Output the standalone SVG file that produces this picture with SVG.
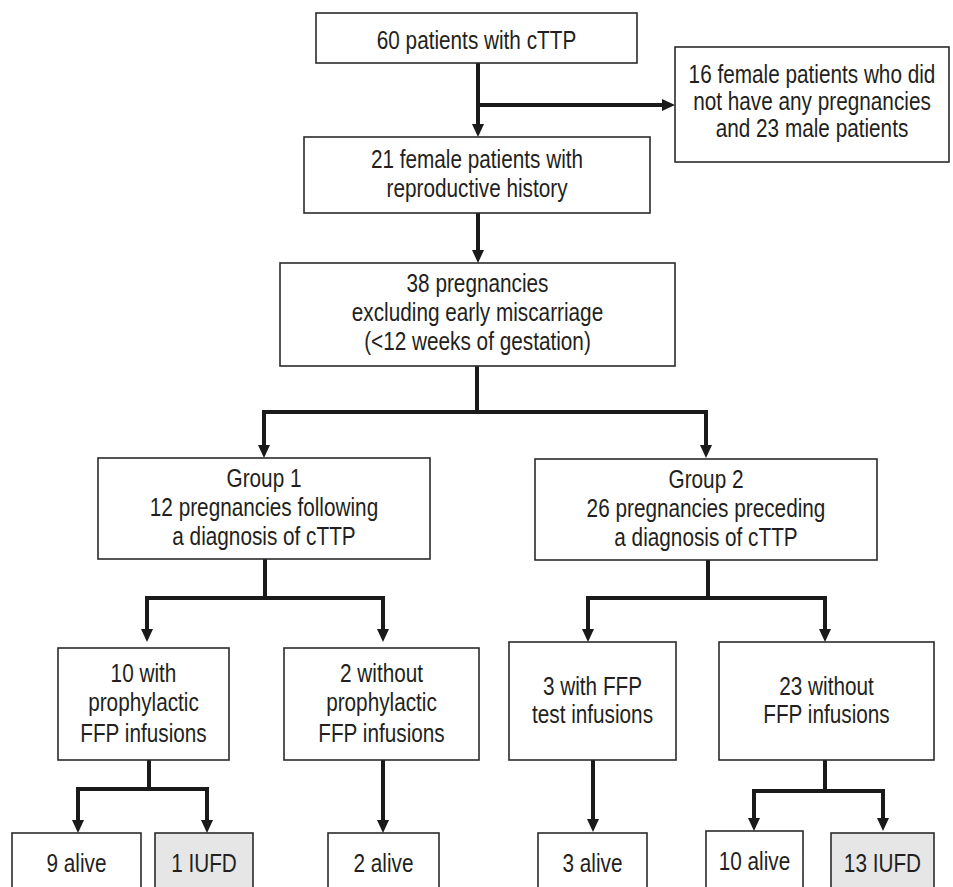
<svg xmlns="http://www.w3.org/2000/svg" width="953" height="887" viewBox="0 0 953 887">
  <style>
    .box { fill: #ffffff; stroke: #2b2b2b; stroke-width: 1.6; }
    .box.grey { fill: #e6e6e6; }
    .lbl { font-family: "Liberation Sans", Arial, sans-serif; font-size: 25px; fill: #231f20; text-anchor: middle;
           transform-box: fill-box; transform-origin: center; transform: scaleX(0.83); }
    .link { fill: none; stroke: #1a1a1a; stroke-width: 4; stroke-linejoin: miter; stroke-linecap: butt; }
  </style>
  <defs>
    <marker id="arrow" markerUnits="userSpaceOnUse" markerWidth="13" markerHeight="12" viewBox="0 0 13 12" refX="1" refY="6" orient="auto">
      <path d="M0,0 L13,6 L0,12 Z" fill="#1a1a1a"/>
    </marker>
  </defs>

  <rect width="953" height="887" fill="#ffffff"/>

  <!-- connectors -->
  <g id="connectors">
    <path class="link" d="M478,63 V125" marker-end="url(#arrow)"/>
    <path class="link" d="M478,105 H663" marker-end="url(#arrow)"/>
    <path class="link" d="M478,213 V251" marker-end="url(#arrow)"/>

    <path class="link" d="M477,366 V412"/>
    <path class="link" d="M477,412 H264 V446" marker-end="url(#arrow)"/>
    <path class="link" d="M477,412 H706 V446" marker-end="url(#arrow)"/>

    <path class="link" d="M265,559 V598"/>
    <path class="link" d="M265,598 H147 V630" marker-end="url(#arrow)"/>
    <path class="link" d="M265,598 H383 V630" marker-end="url(#arrow)"/>

    <path class="link" d="M708,560 V598"/>
    <path class="link" d="M708,598 H588 V630" marker-end="url(#arrow)"/>
    <path class="link" d="M708,598 H825 V630" marker-end="url(#arrow)"/>

    <path class="link" d="M149,760 V789"/>
    <path class="link" d="M149,789 H78 V821" marker-end="url(#arrow)"/>
    <path class="link" d="M149,789 H207 V821" marker-end="url(#arrow)"/>

    <path class="link" d="M383,760 V821" marker-end="url(#arrow)"/>
    <path class="link" d="M593,760 V820" marker-end="url(#arrow)"/>

    <path class="link" d="M825,760 V791"/>
    <path class="link" d="M825,791 H754 V819" marker-end="url(#arrow)"/>
    <path class="link" d="M825,791 H883 V819" marker-end="url(#arrow)"/>
  </g>

  <!-- nodes -->
  <g id="all-patients">
    <rect class="box" x="316" y="13" width="321" height="50"/>
    <text class="lbl" x="476.5" y="49">60 patients with cTTP</text>
  </g>

  <g id="excluded">
    <rect class="box" x="675" y="47" width="274" height="115"/>
    <text class="lbl" x="812" y="83">16 female patients who did</text>
    <text class="lbl" x="812" y="110">not have any pregnancies</text>
    <text class="lbl" x="812" y="137">and 23 male patients</text>
  </g>

  <g id="female-reproductive">
    <rect class="box" x="304" y="137" width="346" height="76"/>
    <text class="lbl" x="477" y="168">21 female patients with</text>
    <text class="lbl" x="477" y="197">reproductive history</text>
  </g>

  <g id="pregnancies">
    <rect class="box" x="280" y="263" width="395" height="103"/>
    <text class="lbl" x="477.5" y="292">38 pregnancies</text>
    <text class="lbl" x="477.5" y="321">excluding early miscarriage</text>
    <text class="lbl" x="477.5" y="350">(&lt;12 weeks of gestation)</text>
  </g>

  <g id="group-1">
    <rect class="box" x="98" y="458" width="332" height="101"/>
    <text class="lbl" x="264" y="487">Group 1</text>
    <text class="lbl" x="264" y="516">12 pregnancies following</text>
    <text class="lbl" x="264" y="545">a diagnosis of cTTP</text>
  </g>

  <g id="group-2">
    <rect class="box" x="535" y="459" width="342" height="101"/>
    <text class="lbl" x="706" y="488">Group 2</text>
    <text class="lbl" x="706" y="517">26 pregnancies preceding</text>
    <text class="lbl" x="706" y="546">a diagnosis of cTTP</text>
  </g>

  <g id="with-prophylactic">
    <rect class="box" x="58" y="648" width="171" height="112"/>
    <text class="lbl" x="143.5" y="682">10 with</text>
    <text class="lbl" x="143.5" y="711">prophylactic</text>
    <text class="lbl" x="143.5" y="742">FFP infusions</text>
  </g>

  <g id="without-prophylactic">
    <rect class="box" x="284" y="648" width="195" height="112"/>
    <text class="lbl" x="381.5" y="682">2 without</text>
    <text class="lbl" x="381.5" y="711">prophylactic</text>
    <text class="lbl" x="381.5" y="742">FFP infusions</text>
  </g>

  <g id="test-infusions">
    <rect class="box" x="509" y="642" width="167" height="118"/>
    <text class="lbl" x="592.5" y="695">3 with FFP</text>
    <text class="lbl" x="592.5" y="723">test infusions</text>
  </g>

  <g id="without-infusions">
    <rect class="box" x="719" y="642" width="215" height="118"/>
    <text class="lbl" x="826.5" y="695">23 without</text>
    <text class="lbl" x="826.5" y="723">FFP infusions</text>
  </g>

  <g id="outcome-9-alive">
    <rect class="box" x="12" y="833" width="129" height="70"/>
    <text class="lbl" x="76.5" y="872">9 alive</text>
  </g>

  <g id="outcome-1-iufd">
    <rect class="box grey" x="155" y="833" width="98" height="70"/>
    <text class="lbl" x="204" y="872">1 IUFD</text>
  </g>

  <g id="outcome-2-alive">
    <rect class="box" x="328" y="833" width="111" height="70"/>
    <text class="lbl" x="383.5" y="872">2 alive</text>
  </g>

  <g id="outcome-3-alive">
    <rect class="box" x="538" y="833" width="109" height="70"/>
    <text class="lbl" x="592.5" y="872">3 alive</text>
  </g>

  <g id="outcome-10-alive">
    <rect class="box" x="706" y="831" width="97" height="72"/>
    <text class="lbl" x="754.5" y="870">10 alive</text>
  </g>

  <g id="outcome-13-iufd">
    <rect class="box grey" x="831" y="833" width="103" height="70"/>
    <text class="lbl" x="882.5" y="872">13 IUFD</text>
  </g>
</svg>
